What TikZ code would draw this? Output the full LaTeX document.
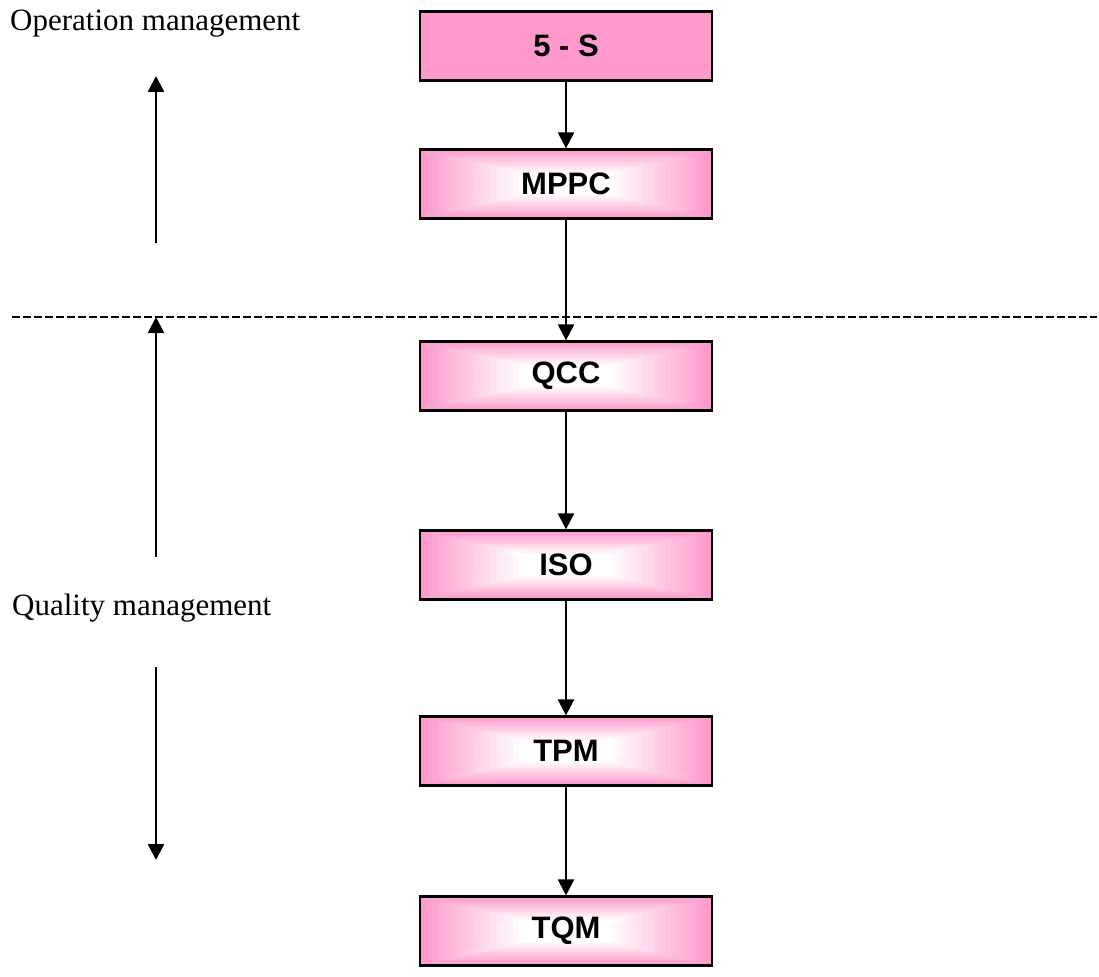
\documentclass[tikz,border=0pt]{standalone}
\usepackage{fontspec}
\setmainfont{Liberation Serif}
\newfontfamily\boxfont{Liberation Sans}
\usetikzlibrary{arrows.meta,calc}
\definecolor{pinkc}{RGB}{255,153,204}
\tikzset{
  x=1pt, y=-1pt,
  boxbase/.style={draw=black, line width=2.2pt, minimum width=292pt, minimum height=69pt,
    inner sep=0pt, font=\boxfont\bfseries\fontsize{31}{37}\selectfont},
  flatbox/.style={boxbase, fill=pinkc},
  gradbox/.style={boxbase, fill=pinkc,
    path picture={
      \foreach \i in {1,...,24}{
        \pgfmathsetmacro\f{\i/25}
        \pgfmathsetmacro\p{min(100,\i*100/17)}
        \fill[white!\p!pinkc]
          ($(path picture bounding box.south west)!\f*0.5!(path picture bounding box.north east)$)
          rectangle
          ($(path picture bounding box.north east)!\f*0.5!(path picture bounding box.south west)$);
      }
    }},
  flow/.style={line width=2.4pt, -{Triangle[width=16pt,length=16pt]}},
  label/.style={font=\fontsize{31}{37}\selectfont, anchor=west, inner sep=0pt}
}
\begin{document}
\begin{tikzpicture}
\useasboundingbox (0,0) rectangle (1099,976);
\node[flatbox] (s5) at (566,46) {5 - S};
\node[gradbox] (mppc) at (566,184) {MPPC};
\node[gradbox] (qcc) at (566,376) {QCC};
\node[gradbox] (iso) at (566,565) {ISO};
\node[gradbox] (tpm) at (566,751) {TPM};
\node[gradbox] (tqm) at (566,931) {TQM};
\draw[flow] (s5) -- (mppc);
\draw[flow] (mppc) -- (qcc);
\draw[flow] (qcc) -- (iso);
\draw[flow] (iso) -- (tpm);
\draw[flow] (tpm) -- (tqm);
\coordinate (dl) at (12,317);
\coordinate (dr) at (1097,317);
\draw[line width=2.4pt, dash pattern=on 7.5pt off 3.5pt] (dl) -- (dr);
\node[label] (op) at (10,24) {Operation management};
\node[label] (ql) at (12,608) {Quality management};
\coordinate (a1s) at (156,243);
\coordinate (a1e) at (156,76);
\coordinate (a2s) at (156,557);
\coordinate (a2e) at (156,317);
\coordinate (a3s) at (156,667);
\coordinate (a3e) at (156,860);
\draw[flow] (a1s) -- (a1e);
\draw[flow] (a2s) -- (a2e);
\draw[flow] (a3s) -- (a3e);
\end{tikzpicture}
\end{document}
